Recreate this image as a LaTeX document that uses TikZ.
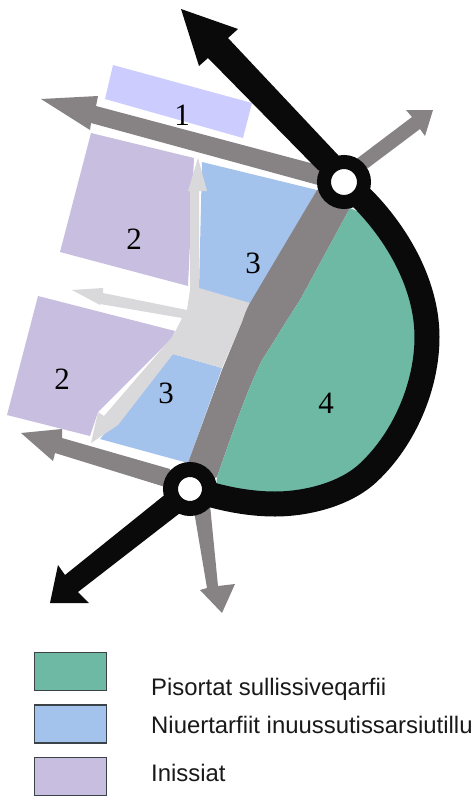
\documentclass[tikz,border=0pt]{standalone}
\usepackage{fontspec}
\setmainfont{Liberation Serif}
\newfontfamily\legendfont{Liberation Sans}
\definecolor{cGreen}{HTML}{6EB9A3}
\definecolor{cBlue}{HTML}{A4C3EC}
\definecolor{cPurple}{HTML}{C8BFE0}
\definecolor{cTop}{HTML}{CCCCFF}
\definecolor{cLight}{HTML}{D9D8DA}
\definecolor{cBand}{HTML}{878385}
\definecolor{cBlack}{HTML}{0A0A0A}
\definecolor{cEdge}{HTML}{3C4348}
\tikzset{
  num/.style={font=\fontsize{31}{31}\selectfont,text=black,inner sep=0pt},
  legtext/.style={font=\legendfont\fontsize{23.9}{25}\selectfont,anchor=base west,inner sep=0pt,text=black!90},
  legbox/.style={draw=cEdge,line width=1.5pt,anchor=north west,inner sep=0pt,minimum width=72pt,minimum height=38pt},
}
\begin{document}
\begin{tikzpicture}[x=1pt,y=-1pt]
\useasboundingbox (0,0) rectangle (475,796);
% pale and coloured areas
\fill[cTop] (113,65) -- (105,99) -- (243,138) -- (252,103) -- cycle;
\fill[cPurple] (91,133) -- (60,252) -- (188,286) -- (194,158) -- cycle;
\fill[cPurple] (38,296) -- (175,331) -- (172,338) -- (98,412) -- (90,436) -- (7,415) -- cycle;
\fill[cBlue] (202,162) -- (317,190) -- (250,305) -- (199,290) -- cycle;
\fill[cBlue] (100,439) -- (173,354) -- (222,368) -- (188,463) -- cycle;
% light grey circulation
\fill[cLight] (190,290) -- (190,191) -- (188,191) -- (198,158) -- (207,191) -- (199,191) -- (199,288)
  -- (250,303) -- (222,368) -- (173,354) -- (118,425) -- (91,443) -- (98,412) -- (104,416) -- (173,336) -- (182,318)
  -- (100,304) -- (100,305) -- (72,290) -- (103,288) -- (103,293) -- (187,310) -- cycle;
% grey band
\fill[cBand] (317,190) -- (250,303) .. controls (246,310) and (245,314) .. (242,322) -- (222,370) -- (188,463) -- (190,490) -- (217,477)
  .. controls (230,440) and (245,395) .. (262,360) .. controls (275,340) and (290,315) .. (300,300) -- (350,208) -- (344,182) -- cycle;
% green area
\fill[cGreen] (350,208) -- (300,300) .. controls (290,315) and (275,340) .. (262,360) .. controls (245,395) and (230,440) .. (217,477)
  -- (215,497) -- (282,503) -- (333,492) -- (367,473) -- (397,442) -- (412,410) -- (427,337) -- (422,300) -- (393,228) -- cycle;
% grey arrows
\fill[cBand] (41,99) -- (98,96) -- (96,106) -- (318,165) -- (330,190) -- (318,185) -- (91,123) -- (90,130) -- cycle;
\fill[cBand] (21,433) -- (62,429) -- (62,438) -- (170,469) -- (175,490) -- (55,453) -- (53,461) -- cycle;
\fill[cBand] (433,110) -- (425,136) -- (420,129) -- (368,168) -- (355,160) -- (412,117) -- (406,110) -- cycle;
\fill[cBand] (222,613) -- (200,590) -- (207,588) -- (193,505) -- (210,505) -- (218,586) -- (235,584) -- cycle;
% black arrows
\fill[cBlack] (181,9) -- (238,29) -- (228,38) -- (338,155) -- (350,182) -- (318,170) -- (208,58) -- (199,66) -- cycle;
\fill[cBlack] (50,603) -- (58,565) -- (65,575) -- (167,493) -- (190,490) -- (180,513) -- (78,592) -- (89,603) -- cycle;
% black wall
\draw[cBlack,line width=25pt] (344,182) .. controls (385,215) and (427,275) .. (427,337)
  .. controls (427,385) and (405,438) .. (369,472) .. controls (345,495) and (305,504) .. (275,504)
  .. controls (245,504) and (215,497) .. (190,488);
% rings
\filldraw[fill=white,draw=cBlack,line width=14pt] (344,182) circle (20pt);
\filldraw[fill=white,draw=cBlack,line width=15pt] (190,489) circle (19.5pt);
% labels
\node[num] (n1) at (182,115) {1};
\node[num] (n2a) at (134,239) {2};
\node[num] (n3a) at (253,263) {3};
\node[num] (n2b) at (62,379) {2};
\node[num] (n3b) at (166,393) {3};
\node[num] (n4) at (326,403) {4};
% legend
\node[legbox,fill=cGreen] (boxa) at (33.5,651.5) {};
\node[legbox,fill=cBlue] (boxb) at (33.5,704) {};
\node[legbox,fill=cPurple] (boxc) at (33.5,756.5) {};
\node[legtext] (la) at (151,695) {Pisortat sullissiveqarfii};
\node[legtext] (lb) at (151,733) {Niuertarfiit inuussutissarsiutillu};
\node[legtext] (lc) at (151,781) {Inissiat};
\end{tikzpicture}
\end{document}
